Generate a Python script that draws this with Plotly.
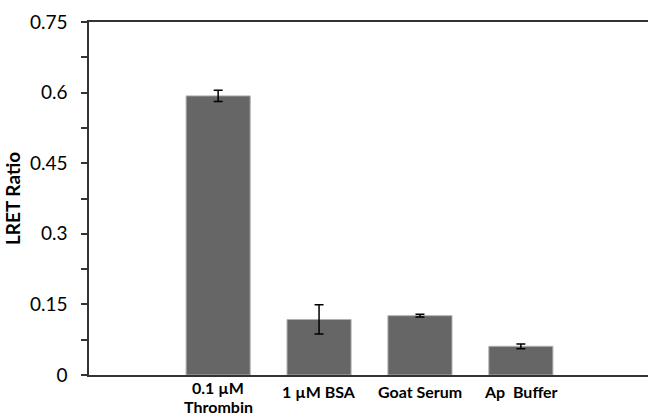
import plotly.graph_objects as go

categories = ["0.1 µM<br>Thrombin", "1 µM BSA", "Goat Serum", "Ap  Buffer"]
values = [0.593, 0.118, 0.126, 0.061]
errors = [0.012, 0.031, 0.003, 0.005]
y_ticks = [0, 0.15, 0.3, 0.45, 0.6, 0.75]
y_tick_labels = ["0", "0.15", "0.3", "0.45", "0.6", "0.75"]

fig = go.Figure(go.Bar(
    x=categories, y=values, width=0.635,
    marker=dict(color="#666666", line=dict(color="#b0b0b0", width=1)),
    error_y=dict(type="data", array=errors, color="black", thickness=1.5, width=4.5),
))

# category labels with tight (Excel-like) line spacing
label_font = dict(family="Lato", size=16, color="black", weight="bold")
for cat in categories:
    lines = cat.split("<br>")
    if len(lines) == 1:
        shifts = [-16.8]
    else:
        shifts = [-12.3 - 19.5 * i for i in range(len(lines))]
    for line, s in zip(lines, shifts):
        fig.add_annotation(x=cat, xref="x", y=0, yref="paper", yanchor="middle",
                           yshift=s, text=line, showarrow=False, font=label_font,
                           borderpad=0)

fig.update_layout(
    width=648, height=416,
    margin=dict(l=89, r=0, t=22, b=41, autoexpand=False),
    plot_bgcolor="white", paper_bgcolor="white",
    font=dict(family="Lato", color="black"),
    showlegend=False,
)
fig.update_xaxes(
    type="category", range=[-1.28, 4.26], automargin=False,
    showline=True, linecolor="#333333", linewidth=1.5, mirror=True,
    ticks="", showgrid=False, showticklabels=False,
)
fig.update_yaxes(
    range=[0, 0.75], tickvals=y_ticks, ticktext=y_tick_labels, automargin=False,
    showline=True, linecolor="#333333", linewidth=1.5,
    ticks="outside", ticklen=6, tickcolor="#333333", tickwidth=1.5,
    minor=dict(dtick=0.075, ticks="outside", ticklen=6, tickcolor="#333333", tickwidth=1.5),
    showgrid=False, zeroline=False,
    tickfont=dict(family="Lato", size=19, color="black"),
    ticklabelstandoff=10,
    title=dict(text="LRET Ratio", font=dict(family="Lato", size=19, color="black", weight="bold"), standoff=4),
)

fig.write_html("out.html", config={"displayModeBar": False},
               post_script="document.body.style.margin='0';document.body.style.overflow='hidden';")
